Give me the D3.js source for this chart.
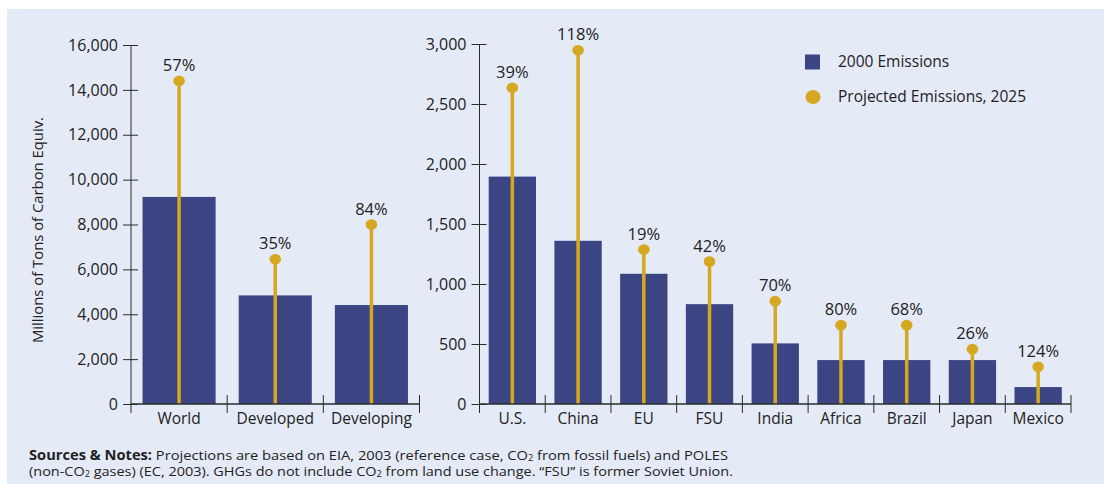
<!DOCTYPE html>
<html>
<head>
<meta charset="utf-8">
<script src="https://cdn.jsdelivr.net/npm/d3@7"></script>
<style>
  body { margin: 0; background: #fff; }
  svg { display: block; font-family: "Open Sans", sans-serif; }
  .tick text { fill: #222; }
</style>
</head>
<body>
<div id="chart"></div>
<script>
// data
var groupCats = ["World", "Developed", "Developing"];
var groupEmit2000 = [9230, 4840, 4410];
var groupEmit2025 = [14400, 6450, 8000];
var groupPct = ["57%", "35%", "84%"];

var countryCats = ["U.S.", "China", "EU", "FSU", "India", "Africa", "Brazil", "Japan", "Mexico"];
var countryEmit2000 = [1895, 1360, 1085, 832, 505, 366, 366, 366, 141];
var countryEmit2025 = [2635, 2948, 1287, 1187, 857, 657, 657, 457, 310];
var countryPct = ["39%", "118%", "19%", "42%", "70%", "80%", "68%", "26%", "124%"];

var leftTicks = [0, 2000, 4000, 6000, 8000, 10000, 12000, 14000, 16000];
var rightTicks = [0, 500, 1000, 1500, 2000, 2500, 3000];

var legendLabels = ["2000 Emissions", "Projected Emissions, 2025"];

// SETUP
var W = 1104, H = 484;
var barColor = "#3b4584", gold = "#d5a81f", axisColor = "#2b2b2b";

var svg = d3.select("#chart").append("svg")
    .attr("width", W)
    .attr("height", H);

svg.append("rect")
    .attr("x", 7).attr("y", 9)
    .attr("width", W - 7).attr("height", H - 9)
    .attr("fill", "#e4eaf6");

var baseY = 404;

function panel(cats, v2000, v2025, pct, ticks, yMax, yTop, x0, x1, pad) {
  var x = d3.scaleBand().domain(cats).range([x0, x1])
      .paddingInner(pad).paddingOuter(pad / 2);
  var y = d3.scaleLinear().domain([0, yMax]).range([baseY, yTop]);
  var g = svg.append("g");

  // bars
  g.selectAll("rect.bar").data(cats).enter().append("rect")
      .attr("class", "bar")
      .attr("x", function(d) { return x(d); })
      .attr("width", x.bandwidth())
      .attr("y", function(d, i) { return y(v2000[i]); })
      .attr("height", function(d, i) { return baseY - y(v2000[i]); })
      .attr("fill", barColor);

  // stems + dots
  var cx = function(d) { return x(d) + x.bandwidth() / 2; };
  g.selectAll("line.stem").data(cats).enter().append("line")
      .attr("x1", cx).attr("x2", cx)
      .attr("y1", baseY)
      .attr("y2", function(d, i) { return y(v2025[i]); })
      .attr("stroke", gold)
      .attr("stroke-width", 3.5);
  g.selectAll("ellipse.dot").data(cats).enter().append("ellipse")
      .attr("cx", cx)
      .attr("cy", function(d, i) { return y(v2025[i]); })
      .attr("rx", 5.8).attr("ry", 5.3)
      .attr("fill", gold);
  g.selectAll("text.pct").data(cats).enter().append("text")
      .attr("x", cx)
      .attr("y", function(d, i) { return y(v2025[i]) - 10; })
      .attr("text-anchor", "middle")
      .attr("font-size", 16.5)
      .attr("fill", "#222")
      .text(function(d, i) { return pct[i]; });

  // y axis
  var yAxis = d3.axisLeft(y).tickValues(ticks).tickSize(8).tickPadding(5)
      .tickFormat(d3.format(","));
  var ya = g.append("g").attr("transform", "translate(" + x0 + ",0)").call(yAxis);
  ya.select(".domain").remove();
  ya.selectAll(".tick line").attr("x1", 7).attr("stroke", axisColor);
  ya.selectAll(".tick text").attr("font-size", 16).attr("font-family", "Open Sans");
  g.append("line")
      .attr("x1", x0).attr("x2", x0)
      .attr("y1", yTop).attr("y2", baseY + 9)
      .attr("stroke", axisColor);

  // x axis
  var xAxis = d3.axisBottom(x).tickSize(0).tickPadding(9);
  var xa = g.append("g").attr("transform", "translate(0," + baseY + ")").call(xAxis);
  xa.select(".domain").remove();
  xa.selectAll(".tick text").attr("font-size", 15.5).attr("font-family", "Open Sans");
  g.append("line")
      .attr("x1", x0).attr("x2", x1)
      .attr("y1", baseY).attr("y2", baseY)
      .attr("stroke", axisColor).attr("stroke-width", 1.3);
  g.selectAll("line.div").data(cats).enter().append("line")
      .attr("x1", function(d) { return x(d) + x.bandwidth() + x.step() * pad / 2; })
      .attr("x2", function(d) { return x(d) + x.bandwidth() + x.step() * pad / 2; })
      .attr("y1", baseY - 9).attr("y2", baseY + 9)
      .attr("stroke", axisColor);
}

panel(groupCats, groupEmit2000, groupEmit2025, groupPct, leftTicks, 16000, 45, 131, 419.5, 0.24);
panel(countryCats, countryEmit2000, countryEmit2025, countryPct, rightTicks, 3000, 44, 479.5, 1071, 0.28);

// y label
svg.append("text")
    .attr("transform", "translate(43,230) rotate(-90)")
    .attr("text-anchor", "middle")
    .attr("font-size", 15)
    .attr("fill", "#222")
    .attr("textLength", 226)
    .attr("lengthAdjust", "spacingAndGlyphs")
    .text("Millions of Tons of Carbon Equiv.");

// legend
var leg = svg.append("g").attr("transform", "translate(805,0)");
leg.append("rect").attr("x", 0).attr("y", 54.5).attr("width", 15).attr("height", 15).attr("fill", barColor);
leg.append("ellipse").attr("cx", 8).attr("cy", 97).attr("rx", 7.5).attr("ry", 7).attr("fill", gold);
leg.selectAll("text").data(legendLabels).enter().append("text")
    .attr("x", 33)
    .attr("y", function(d, i) { return 67 + i * 34.5; })
    .attr("font-size", 15.5)
    .attr("fill", "#222")
    .text(function(d) { return d; });

// footer notes (subscripts drawn in place, small)
var note1 = svg.append("text").attr("x", 29).attr("y", 460).attr("font-size", 13.5)
    .attr("fill", "#222").attr("textLength", 699).attr("lengthAdjust", "spacingAndGlyphs");
note1.append("tspan").attr("font-weight", "bold").text("Sources & Notes:");
note1.append("tspan").text(" Projections are based on EIA, 2003 (reference case, CO");
note1.append("tspan").attr("font-size", 8.5).attr("dy", 1).text("2");
note1.append("tspan").attr("dy", -1).text(" from fossil fuels) and POLES");

var note2 = svg.append("text").attr("x", 29).attr("y", 476).attr("font-size", 13.5)
    .attr("fill", "#222").attr("textLength", 704).attr("lengthAdjust", "spacingAndGlyphs");
note2.append("tspan").text("(non-CO");
note2.append("tspan").attr("font-size", 8.5).attr("dy", 1).text("2");
note2.append("tspan").attr("dy", -1).text(" gases) (EC, 2003). GHGs do not include CO");
note2.append("tspan").attr("font-size", 8.5).attr("dy", 1).text("2");
note2.append("tspan").attr("dy", -1).text(" from land use change. \u201CFSU\u201D is former Soviet Union.");
</script>
</body>
</html>
